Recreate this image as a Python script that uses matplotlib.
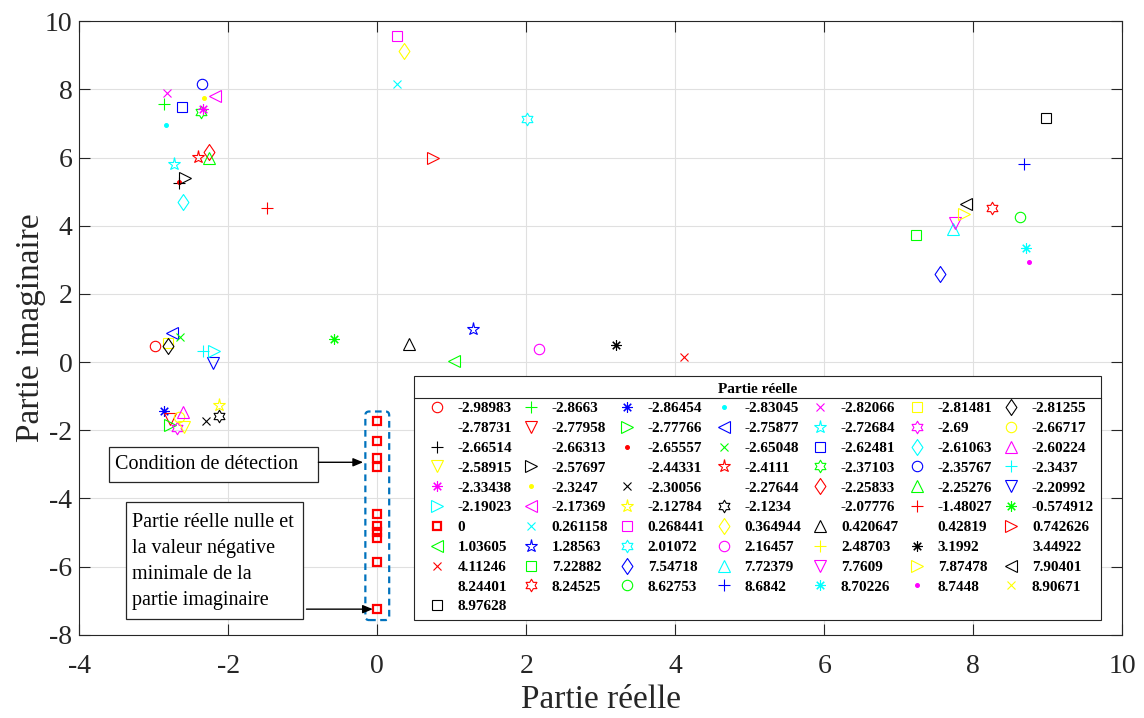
import numpy as np
import matplotlib
matplotlib.use("Agg")
import matplotlib.pyplot as plt
from matplotlib.path import Path
from matplotlib.lines import Line2D
from matplotlib.patches import Rectangle, FancyBboxPatch

plt.rcParams['font.family'] = ['Liberation Serif', 'DejaVu Serif']
plt.rcParams['axes.unicode_minus'] = False

# Real parts of the eigenvalues (legend labels, sorted ascending)
real_labels = [
    '-2.98983', '-2.8663', '-2.86454', '-2.83045', '-2.82066', '-2.81481', '-2.81255',
    '-2.78731', '-2.77958', '-2.77766', '-2.75877', '-2.72684', '-2.69', '-2.66717',
    '-2.66514', '-2.66313', '-2.65557', '-2.65048', '-2.62481', '-2.61063', '-2.60224',
    '-2.58915', '-2.57697', '-2.44331', '-2.4111', '-2.37103', '-2.35767', '-2.3437',
    '-2.33438', '-2.3247', '-2.30056', '-2.27644', '-2.25833', '-2.25276', '-2.20992',
    '-2.19023', '-2.17369', '-2.12784', '-2.1234', '-2.07776', '-1.48027', '-0.574912',
    '0', '0.261158', '0.268441', '0.364944', '0.420647', '0.42819', '0.742626',
    '1.03605', '1.28563', '2.01072', '2.16457', '2.48703', '3.1992', '3.44922',
    '4.11246', '7.22882', '7.54718', '7.72379', '7.7609', '7.87478', '7.90401',
    '8.24401', '8.24525', '8.62753', '8.6842', '8.70226', '8.7448', '8.90671',
    '8.97628',
]
real_parts = [float(s) for s in real_labels]

# Imaginary parts of the eigenvalues sharing each real part
zero_imag = [-1.73, -2.32, -2.81, -3.07, -4.46, -4.81, -4.99, -5.16, -5.86, -7.25]
imag_parts = [
    [0.47], [7.57], [-1.43], [6.95], [7.89], [0.56], [0.48],
    [0.70], [-1.67], [-1.85], [0.85], [5.81], [-1.94], [-1.60],
    [5.25], [5.30], [5.29], [0.73], [7.49], [4.71], [-1.46],
    [-1.90], [5.39], [6.20], [6.01], [7.35], [8.15], [0.33],
    [7.43], [7.76], [-1.73], [7.10], [6.17], [5.98], [-0.04],
    [0.33], [7.82], [-1.26], [-1.57], [-1.00], [4.51], [0.68],
    zero_imag, [8.16], [9.58], [9.14], [0.52], [0.30], [6.00],
    [0.03], [0.96], [7.13], [0.38], [-1.20], [0.50], [-0.90],
    [0.15], [3.73], [2.58], [3.90], [4.09], [4.35], [4.63],
    [4.50], [4.51], [4.25], [5.81], [3.34], [2.93], [-1.50],
    [7.15],
]

# MATLAB-like colour and marker cycles
color_cycle = ['#ff0000', '#00ff00', '#0000ff', '#00ffff', '#ff00ff', '#ffff00', '#000000', '#ffffff']

diamond = Path([(0, 1), (0.68, 0), (0, -1), (-0.68, 0), (0, 1)], closed=True)
hexagram = Path.unit_regular_star(6, 1 / np.sqrt(3))
marker_cycle = [
    ('o', 7.5), ('+', 8.0), ((8, 2, 0), 7.5), ('.', 5.5), ('x', 6.0), ('s', 7.0),
    (diamond, 11.5), ('^', 9.0), ('v', 9.0), ('>', 9.0), ('<', 9.0), ('*', 9.5),
    (hexagram, 9.0),
]

fig = plt.figure(figsize=(11.44, 7.18), dpi=100)
ax = fig.add_axes([0.0693, 0.116, 0.9117, 0.8543])

handles = []
for i, (re, ims) in enumerate(zip(real_parts, imag_parts)):
    xs = [re] * len(ims)
    if re == 0:
        h, = ax.plot(xs, ims, linestyle='none', marker='s', markersize=5.5,
                     markeredgewidth=1.6, markeredgecolor='#ff0000',
                     markerfacecolor='none', label=real_labels[i], zorder=2.2)
    else:
        col = color_cycle[i % 8]
        mk, ms = marker_cycle[i % 13]
        mfc = col if mk == '.' else 'none'
        h, = ax.plot(xs, ims, linestyle='none', marker=mk, markersize=ms,
                     markeredgewidth=0.8, markeredgecolor=col,
                     markerfacecolor=mfc, label=real_labels[i],
                     zorder=1.9 if col == '#ffffff' else 2)
    handles.append(h)

ax.set_xlim(-4, 10)
ax.set_ylim(-8, 10)
ax.set_xticks(np.arange(-4, 11, 2))
ax.set_yticks(np.arange(-8, 11, 2))
ax.grid(True, color='#e0e0e0', linewidth=0.8)
ax.set_axisbelow(True)
ax.tick_params(axis='both', direction='in', length=8, width=0.8, top=True, right=True,
               labelsize=20, color='#262626', labelcolor='#262626')
ax.tick_params(axis='x', pad=14)
ax.tick_params(axis='y', pad=5)
for sp in ax.spines.values():
    sp.set_color('#262626')
    sp.set_linewidth(0.8)

ax.set_xlabel('Partie réelle', fontsize=24, color='#262626', labelpad=4)
ax.set_ylabel('Partie imaginaire', fontsize=24, color='#262626', labelpad=-1)

# Detection region around the purely imaginary eigenvalues
y_lo = min(zero_imag) - 0.32
y_hi = max(zero_imag) + 0.28
region = FancyBboxPatch((-0.16, y_lo), 0.32, y_hi - y_lo,
                        boxstyle='round,pad=0,rounding_size=0.05',
                        mutation_aspect=2.2, fill=False, edgecolor='#0072BD',
                        linewidth=1.6, linestyle=(0, (3, 2)), zorder=3)
ax.add_patch(region)

# Text boxes with arrows
box1 = Rectangle((-3.60, -3.52), 2.81, 1.04, facecolor='white', edgecolor='#262626',
                 linewidth=0.9, zorder=3)
ax.add_patch(box1)
ax.text(-3.52, -3.0, 'Condition de détection', fontsize=14.5, ha='left', va='center',
        color='black', zorder=4)
y_pair = (zero_imag[2] + zero_imag[3]) / 2
ax.annotate('', xy=(-0.19, y_pair), xytext=(-0.79, y_pair),
            arrowprops=dict(arrowstyle='-|>,head_length=0.6,head_width=0.25',
                            color='black', lw=1.0, shrinkA=0, shrinkB=0),
            zorder=4)

box2 = Rectangle((-3.37, -7.54), 2.37, 3.43, facecolor='white', edgecolor='#262626',
                 linewidth=0.9, zorder=3)
ax.add_patch(box2)
ax.text(-3.29, -5.86,
        'Partie réelle nulle et\nla valeur négative\nminimale de la\npartie imaginaire',
        fontsize=14.5, ha='left', va='center', linespacing=1.5, color='black', zorder=4)
y_min = min(zero_imag)
ax.annotate('', xy=(-0.06, y_min), xytext=(-0.95, y_min),
            arrowprops=dict(arrowstyle='-|>,head_length=0.6,head_width=0.25',
                            color='black', lw=1.0, shrinkA=0, shrinkB=0),
            zorder=4)

# Legend filled row by row, 7 columns
ncol = 7
order = []
for c in range(ncol):
    order += list(range(c, len(handles), ncol))
leg = ax.legend([handles[k] for k in order], [real_labels[k] for k in order],
                ncol=ncol, loc='upper left', bbox_to_anchor=(0.3209, 0.0, 0.6587, 0.4222),
                mode='expand', borderaxespad=0, numpoints=1,
                prop={'family': 'Liberation Serif', 'weight': 'bold', 'size': 11},
                title='Partie réelle',
                title_fontproperties={'family': 'Liberation Serif', 'weight': 'bold', 'size': 11},
                fancybox=False, framealpha=1, edgecolor='#262626',
                borderpad=0.45, labelspacing=0.4, handlelength=2.1, handletextpad=0.3)
leg.get_frame().set_linewidth(0.8)
leg.set_zorder(5)

# Rule under the legend title
fig.canvas.draw()
renderer = fig.canvas.get_renderer()
lb = leg.get_window_extent(renderer)
tb = leg.get_title().get_window_extent(renderer)
W, H = fig.bbox.width, fig.bbox.height
y_rule = (tb.y0 - 2.5) / H
fig.add_artist(Line2D([lb.x0 / W, lb.x1 / W], [y_rule, y_rule], transform=fig.transFigure,
                      color='#262626', linewidth=0.8, zorder=10))

fig.savefig('out.png', dpi=100)
